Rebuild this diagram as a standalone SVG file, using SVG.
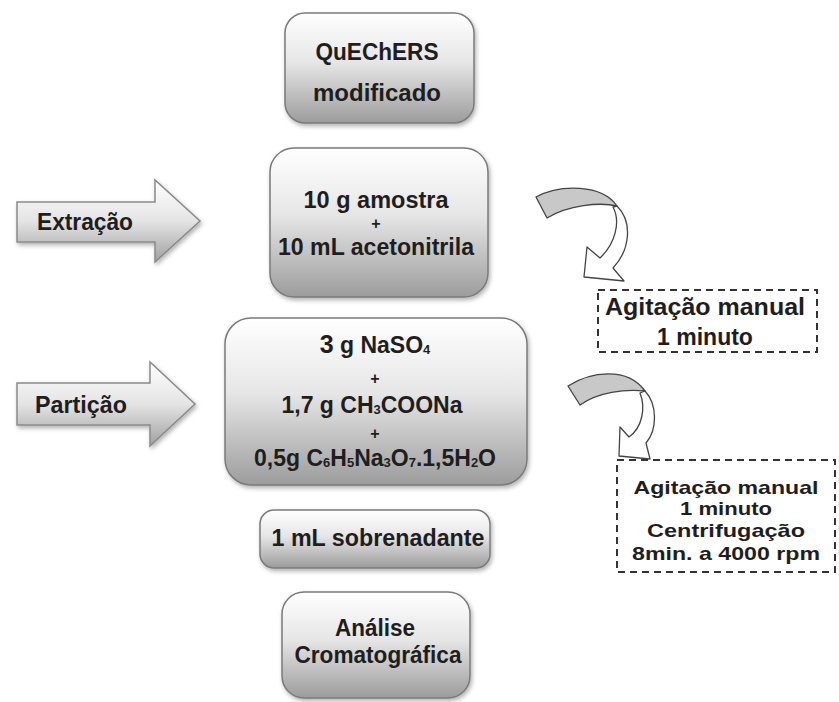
<svg xmlns="http://www.w3.org/2000/svg" width="839" height="702" viewBox="0 0 839 702">
<defs>
<linearGradient id="gBox" x1="0" y1="0" x2="0" y2="1">
<stop offset="0" stop-color="#ffffff"/>
<stop offset="0.45" stop-color="#e6e6e6"/>
<stop offset="1" stop-color="#9c9c9c"/>
</linearGradient>
<linearGradient id="gArrow" x1="0" y1="0" x2="0" y2="1">
<stop offset="0" stop-color="#ffffff"/>
<stop offset="0.5" stop-color="#e4e4e4"/>
<stop offset="1" stop-color="#a0a0a0"/>
</linearGradient>
<filter id="sh" x="-10%" y="-10%" width="125%" height="130%">
<feDropShadow dx="1.5" dy="2.5" stdDeviation="2" flood-color="#000" flood-opacity="0.3"/>
</filter>
</defs>
<style>
.box{fill:url(#gBox);stroke:#7a7a7a;stroke-width:1.5;filter:url(#sh)}
.blk{fill:url(#gArrow);stroke:#8a8a8a;stroke-width:1.5;filter:url(#sh)}
.t{font-family:"Liberation Sans",Arial,sans-serif;font-weight:bold;font-size:23px;fill:#1e1e1e;text-anchor:middle}
.n{font-family:"Liberation Sans",Arial,sans-serif;font-weight:bold;font-size:19px;fill:#1e1e1e;text-anchor:middle}
.plus{font-family:"Liberation Sans",Arial,sans-serif;font-weight:bold;font-size:16px;fill:#1e1e1e;text-anchor:middle}
.sub{font-size:13px}
.dash{fill:#fff;stroke:#333;stroke-width:2;stroke-dasharray:7 5}
.tail{fill:#c8c8c8;stroke:#444;stroke-width:1.3;stroke-linejoin:round}
.head{fill:#fff;stroke:#444;stroke-width:1.3;stroke-linejoin:round}
</style>
<rect width="839" height="702" fill="#fff"/>

<g id="connectors">
<g id="arrow-extracao">
<path class="blk" d="M17,202 H155 V180 L200,221 L155,262 V242 H17 Z"/>
<text class="t" x="85" y="230" textLength="96" lengthAdjust="spacingAndGlyphs">Extração</text>
</g>
<g id="arrow-particao">
<path class="blk" d="M17,383 H150 V362 L195,404 L150,446 V425 H17 Z"/>
<text class="t" x="81" y="413" textLength="92" lengthAdjust="spacingAndGlyphs">Partição</text>
</g>
<g id="curved-1">
<path class="tail" d="M536,197 C560,184 602,184 617,206 C600,202 568,205 547,218 Z"/>
<path class="head" d="M617,206 C633,222 630,250 613,268 L624,281 L584,277 L587,247 L600,258 C615,244 621,222 613,207 Z"/>
</g>
<g id="curved-2">
<path class="tail" d="M568,386 C590,372 627,366 645,391 C625,389 598,392 580,405 Z"/>
<path class="head" d="M645,391 C658,405 657,430 646,443 L650,459 L619,456 L620,427 L629,437 C642,428 646,408 640,393 Z"/>
</g>
</g>

<g id="node-quechers">
<rect class="box" x="285" y="13" width="189" height="110" rx="20"/>
<text class="t" x="377" y="60" textLength="123" lengthAdjust="spacingAndGlyphs">QuEChERS</text>
<text class="t" x="377" y="101" textLength="128" lengthAdjust="spacingAndGlyphs">modificado</text>
</g>

<g id="node-amostra">
<rect class="box" x="270" y="148" width="218" height="149" rx="24"/>
<text class="t" x="376" y="208" textLength="145" lengthAdjust="spacingAndGlyphs">10 g amostra</text>
<text class="plus" x="376" y="229">+</text>
<text class="t" x="376" y="255" textLength="196" lengthAdjust="spacingAndGlyphs">10 mL acetonitrila</text>
</g>

<g id="node-particao">
<rect class="box" x="225" y="318" width="302" height="167" rx="26"/>
<text class="t" x="375" y="353"><tspan font-size="25px">3</tspan> g NaSO<tspan class="sub" dy="1">4</tspan></text>
<text class="plus" x="375" y="384">+</text>
<text class="t" x="372" y="413">1,7 g CH<tspan class="sub" dy="1">3</tspan><tspan dy="-1">COONa</tspan></text>
<text class="plus" x="375" y="439">+</text>
<text class="t" x="375" y="466">0,5g C<tspan class="sub" dy="1">6</tspan><tspan dy="-1">H</tspan><tspan class="sub" dy="1">5</tspan><tspan dy="-1">Na</tspan><tspan class="sub" dy="1">3</tspan><tspan dy="-1">O</tspan><tspan class="sub" dy="1">7</tspan><tspan dy="-1">.1,5H</tspan><tspan class="sub" dy="1">2</tspan><tspan dy="-1">O</tspan></text>
</g>

<g id="node-sobrenadante">
<rect class="box" x="260" y="510" width="230" height="58" rx="14"/>
<text class="t" x="378" y="546" textLength="213" lengthAdjust="spacingAndGlyphs">1 mL sobrenadante</text>
</g>

<g id="node-analise">
<rect class="box" x="282" y="592" width="188" height="106" rx="22"/>
<text class="t" x="375" y="636" textLength="80" lengthAdjust="spacingAndGlyphs">Análise</text>
<text class="t" x="378" y="663" textLength="167" lengthAdjust="spacingAndGlyphs">Cromatográfica</text>
</g>

<g id="note-1">
<rect class="dash" x="598" y="290" width="219" height="62"/>
<text class="t" x="705" y="315" font-size="21px" textLength="200" lengthAdjust="spacingAndGlyphs">Agitação manual</text>
<text class="t" x="705" y="345" font-size="21px">1 minuto</text>
</g>

<g id="note-2">
<rect class="dash" x="617" y="460" width="218" height="112"/>
<text class="n" x="726" y="494" textLength="185" lengthAdjust="spacingAndGlyphs">Agitação manual</text>
<text class="n" x="726" y="515" textLength="92" lengthAdjust="spacingAndGlyphs">1 minuto</text>
<text class="n" x="726" y="537" textLength="158" lengthAdjust="spacingAndGlyphs">Centrifugação</text>
<text class="n" x="726" y="560" textLength="188" lengthAdjust="spacingAndGlyphs">8min. a 4000 rpm</text>
</g>
</svg>
